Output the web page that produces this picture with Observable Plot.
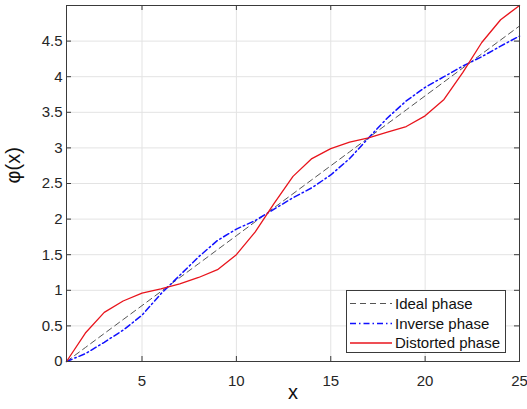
<!DOCTYPE html>
<html><head><meta charset="utf-8">
<script src="https://cdn.jsdelivr.net/npm/d3@7"></script>
<script src="https://cdn.jsdelivr.net/npm/@observablehq/plot@0.6"></script>
<style>body{margin:0;background:#fff;}</style>
</head><body><div id="chart"></div>
<script>
const xValues = [1,2,3,4,5,6,7,8,9,10,11,12,13,14,15,16,17,18,19,20,21,22,23,24,25];
const idealPhase = [0,0.196,0.393,0.589,0.785,0.982,1.178,1.374,1.571,1.767,1.963,2.160,2.356,2.553,2.749,2.945,3.142,3.338,3.534,3.731,3.927,4.123,4.320,4.516,4.712];
const inversePhase = [0,0.11,0.27,0.44,0.65,0.95,1.21,1.47,1.70,1.86,1.98,2.14,2.30,2.44,2.62,2.85,3.14,3.42,3.66,3.85,4.00,4.15,4.28,4.43,4.57];
const distortedPhase = [0,0.40,0.69,0.85,0.96,1.02,1.09,1.18,1.29,1.50,1.82,2.22,2.60,2.85,2.99,3.08,3.14,3.22,3.30,3.45,3.68,4.06,4.48,4.80,5.00];
const xTicks = [5,10,15,20,25];
const yTicks = [0,0.5,1,1.5,2,2.5,3,3.5,4,4.5];
const seriesNames = ["Ideal phase","Inverse phase","Distorted phase"];
const seriesColors = ["#555555","#1010ff","#e8141c"];
const seriesDash = ["6,4","6,3,1.5,3",null];
const seriesWidth = [1,1.5,1.3];

const rows = xValues.map((x,i)=>({x, ideal: idealPhase[i], inverse: inversePhase[i], distorted: distortedPhase[i]}));
const keys = ["ideal","inverse","distorted"];

const W=527,H=409, mL=66, mR=8, mT=5, mB=48;
const frameW = W-mL-mR, frameH = H-mT-mB;
const axisColor = "#3a3a3a";

const plot = Plot.plot({
  width:W, height:H, marginLeft:mL, marginRight:mR, marginTop:mT, marginBottom:mB,
  style:{fontFamily:"'Liberation Sans', Arial, sans-serif", background:"#fff", color:"#262626", overflow:"visible"},
  x:{domain:[1,25]}, y:{domain:[0,5]},
  marks:[
    Plot.gridX(xTicks.filter(d=>d<25), {stroke:"#e3e3e3", strokeOpacity:1}),
    Plot.gridY(yTicks.filter(d=>d>0), {stroke:"#e3e3e3", strokeOpacity:1}),
    ...keys.map((k,i)=>Plot.line(rows, {x:"x", y:k, stroke:seriesColors[i], strokeWidth:seriesWidth[i], strokeDasharray:seriesDash[i]})),
    Plot.frame({stroke:axisColor, strokeWidth:1}),
    Plot.tickX(xTicks.filter(d=>d<25), {x:d=>d, insetTop:frameH-5, stroke:axisColor}),
    Plot.tickX(xTicks.filter(d=>d<25), {x:d=>d, insetBottom:frameH-5, stroke:axisColor}),
    Plot.tickY(yTicks.filter(d=>d>0), {y:d=>d, insetRight:frameW-5, stroke:axisColor}),
    Plot.tickY(yTicks.filter(d=>d>0), {y:d=>d, insetLeft:frameW-5, stroke:axisColor}),
    Plot.axisX(xTicks, {tickSize:0, tickPadding:14, fontSize:15, tickFormat:d=>String(d), label:null, fill:"#262626"}),
    Plot.axisY(yTicks, {tickSize:0, tickPadding:4, fontSize:15, tickFormat:d=>String(d), label:null, fill:"#262626"}),
    Plot.text(["x"], {frameAnchor:"bottom", dy:37, fontSize:20, fill:"#111"}),
    Plot.text(["φ(x)"], {frameAnchor:"left", rotate:-90, dx:-53, fontSize:20, fill:"#111"})
  ]
});
document.getElementById("chart").appendChild(plot);

// legend
const svg = d3.select(plot);
const lg = svg.append("g").attr("text-anchor","start");
lg.append("rect").attr("x",346.5).attr("y",290.5).attr("width",159).attr("height",62)
  .attr("fill","#fff").attr("stroke",axisColor).attr("stroke-width",1);
const rowY = [303.5, 323.5, 343];
seriesNames.forEach((name,i)=>{
  lg.append("line").attr("x1",350).attr("x2",392).attr("y1",rowY[i]).attr("y2",rowY[i])
    .attr("stroke",seriesColors[i]).attr("stroke-width",seriesWidth[i])
    .attr("stroke-dasharray",seriesDash[i]);
  lg.append("text").attr("x",395).attr("y",rowY[i]).attr("dy","0.36em")
    .attr("text-anchor","start").attr("font-size",15).attr("fill","#111").text(name);
});
</script>
</body></html>
